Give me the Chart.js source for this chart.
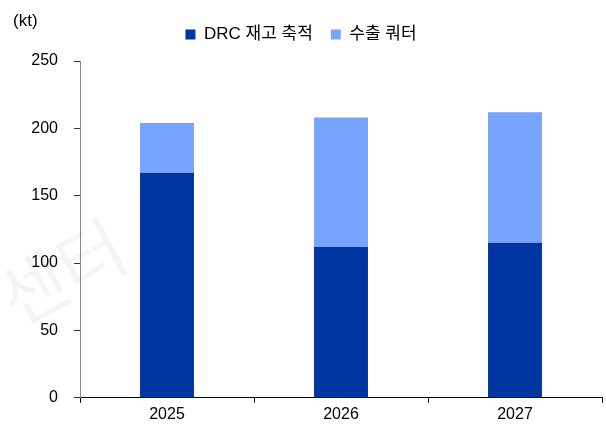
<!DOCTYPE html>
<html>
<head>
<meta charset="utf-8">
<script src="https://cdn.jsdelivr.net/npm/chart.js@4"></script>
<style>
  html, body { margin: 0; padding: 0; background: #fff; }
  #wrap { width: 606px; height: 426px; }
</style>
</head>
<body>
<div id="wrap"><canvas id="chart" width="606" height="426"></canvas></div>
<script>
// values (kt)
const years       = ['2025', '2026', '2027'];
const drcStock    = [167, 112, 115];
const exportQuota = [37, 96, 97];
const yTicks      = [0, 50, 100, 150, 200, 250];

const FONT = "'Liberation Sans', 'Noto Sans CJK KR', sans-serif";

// unit label, faint watermark, extra room under the legend
const extras = {
  id: 'extras',
  beforeInit(chart) {
    const fit = chart.legend.fit;
    chart.legend.fit = function () {
      fit.call(this);
      this.height += 8;
    };
  },
  beforeDatasetsDraw(chart) {
    const ctx = chart.ctx;
    ctx.save();
    ctx.translate(62, 272);
    ctx.rotate(-0.5);
    ctx.font = "72px 'Noto Sans CJK KR'";
    ctx.fillStyle = 'rgba(0,0,0,0.045)';
    ctx.textAlign = 'center';
    ctx.textBaseline = 'middle';
    ctx.fillText('센터', 0, 0);
    ctx.restore();
  },
  afterDraw(chart) {
    const ctx = chart.ctx;
    ctx.save();
    ctx.font = '17px ' + FONT;
    ctx.fillStyle = '#000';
    ctx.textAlign = 'left';
    ctx.textBaseline = 'middle';
    ctx.fillText('(kt)', 13, 21);
    ctx.restore();
  }
};

new Chart(document.getElementById('chart'), {
  type: 'bar',
  data: {
    labels: years,
    datasets: [
      {
        label: 'DRC 재고 축적',
        data: drcStock,
        backgroundColor: '#0036A0',
        barPercentage: 0.62,
        categoryPercentage: 0.5,
      },
      {
        label: '수출 쿼터',
        data: exportQuota,
        backgroundColor: '#76A4FF',
        barPercentage: 0.62,
        categoryPercentage: 0.5,
      },
    ],
  },
  options: {
    responsive: false,
    animation: false,
    layout: { padding: { top: 8, right: 4, bottom: 0, left: 0 } },
    plugins: {
      legend: {
        position: 'top',
        align: 'center',
        labels: {
          boxWidth: 10,
          boxHeight: 10,
          padding: 18,
          color: '#000',
          font: { size: 17, family: FONT },
        },
      },
      tooltip: { enabled: false },
    },
    scales: {
      x: {
        stacked: true,
        border: { color: '#000', width: 1 },
        grid: { drawOnChartArea: false, drawTicks: true, tickLength: 5, color: '#000' },
        ticks: { color: '#000', padding: 2, font: { size: 16, family: FONT } },
      },
      y: {
        stacked: true,
        min: 0,
        max: 250,
        afterBuildTicks: axis => { axis.ticks = yTicks.map(v => ({ value: v })); },
        afterFit: axis => { axis.width = 80; },
        border: { color: '#888', width: 1 },
        grid: { drawOnChartArea: false, drawTicks: true, tickLength: 6, color: '#333' },
        ticks: { color: '#000', padding: 16, font: { size: 16, family: FONT } },
      },
    },
  },
  plugins: [extras],
});
</script>
</body>
</html>
